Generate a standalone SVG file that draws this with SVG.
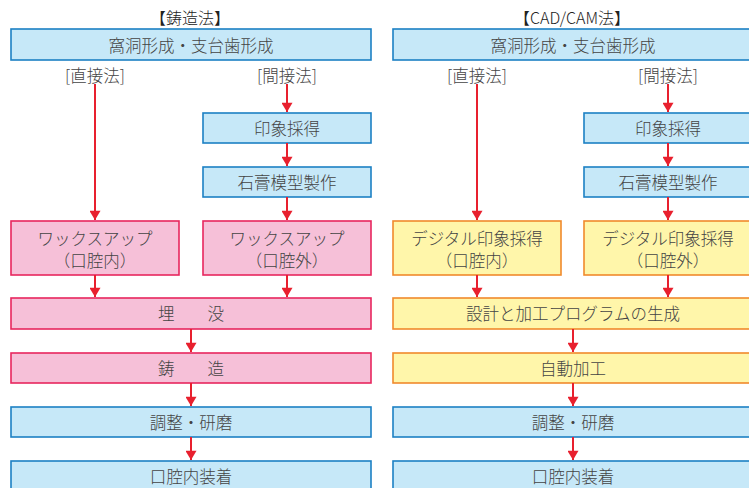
<svg xmlns="http://www.w3.org/2000/svg" width="749" height="488" viewBox="0 0 749 488">
<defs>
<marker id="ah" viewBox="0 0 10 12" refX="10" refY="6" markerWidth="10" markerHeight="11" markerUnits="userSpaceOnUse" orient="auto">
<path d="M0,0 L10,6 L0,12 Z" fill="#e8202e"/>
</marker>
<style>
text{font-family:"Noto Sans CJK JP","Noto Sans",sans-serif;font-size:16.5px;font-weight:300;fill:#444444;text-anchor:middle;dominant-baseline:central}
.t{font-size:16px;fill:#222222}
.blue{fill:#c6e8f8;stroke:#1c80c4;stroke-width:1.6}
.pink{fill:#f6c0d8;stroke:#e8265e;stroke-width:1.6}
.yel{fill:#fff6aa;stroke:#f08a2c;stroke-width:1.6}
.c line{stroke:#e8202e;stroke-width:2;marker-end:url(#ah)}
</style>
</defs>
<rect width="749" height="488" fill="#ffffff"/>
<g id="labels">
<text class="t" x="190" y="17">【鋳造法】</text>
<text class="t" x="572" y="17">【CAD/CAM法】</text>
<text x="95" y="75">[直接法]</text>
<text x="287" y="75">[間接法]</text>
<text x="477" y="75">[直接法]</text>
<text x="668" y="75">[間接法]</text>
</g>
<g id="L1"><rect class="blue" x="11" y="29" width="360" height="31"/><text x="191" y="45">窩洞形成・支台歯形成</text></g>
<g id="L2"><rect class="blue" x="203" y="113" width="168" height="30"/><text x="287" y="128">印象採得</text></g>
<g id="L3"><rect class="blue" x="203" y="167" width="168" height="30"/><text x="287" y="182">石膏模型製作</text></g>
<g id="L4"><rect class="pink" x="11" y="221" width="168" height="54"/><text x="95" y="238">ワックスアップ</text><text x="95" y="260">（口腔内）</text></g>
<g id="L5"><rect class="pink" x="203" y="221" width="168" height="54"/><text x="287" y="238">ワックスアップ</text><text x="287" y="260">（口腔外）</text></g>
<g id="L6"><rect class="pink" x="11" y="298" width="360" height="31"/><text x="191" y="313">埋　　没</text></g>
<g id="L7"><rect class="pink" x="11" y="353" width="360" height="30"/><text x="191" y="368">鋳　　造</text></g>
<g id="L8"><rect class="blue" x="11" y="407" width="360" height="30"/><text x="191" y="422">調整・研磨</text></g>
<g id="L9"><rect class="blue" x="11" y="461" width="360" height="30"/><text x="191" y="476">口腔内装着</text></g>
<g id="R1"><rect class="blue" x="393" y="29" width="360" height="31"/><text x="573" y="45">窩洞形成・支台歯形成</text></g>
<g id="R2"><rect class="blue" x="584" y="113" width="168" height="30"/><text x="668" y="128">印象採得</text></g>
<g id="R3"><rect class="blue" x="584" y="167" width="168" height="30"/><text x="668" y="182">石膏模型製作</text></g>
<g id="R4"><rect class="yel" x="393" y="221" width="168" height="54"/><text x="477" y="238">デジタル印象採得</text><text x="477" y="260">（口腔内）</text></g>
<g id="R5"><rect class="yel" x="584" y="221" width="168" height="54"/><text x="668" y="238">デジタル印象採得</text><text x="668" y="260">（口腔外）</text></g>
<g id="R6"><rect class="yel" x="393" y="298" width="360" height="31"/><text x="573" y="313">設計と加工プログラムの生成</text></g>
<g id="R7"><rect class="yel" x="393" y="353" width="360" height="30"/><text x="573" y="368">自動加工</text></g>
<g id="R8"><rect class="blue" x="393" y="407" width="360" height="30"/><text x="573" y="422">調整・研磨</text></g>
<g id="R9"><rect class="blue" x="393" y="461" width="360" height="30"/><text x="573" y="476">口腔内装着</text></g>
<g class="c" id="connectors">
<line x1="95" y1="84" x2="95" y2="220"/>
<line x1="287" y1="84" x2="287" y2="112"/>
<line x1="287" y1="143" x2="287" y2="166"/>
<line x1="287" y1="197" x2="287" y2="220"/>
<line x1="95" y1="275" x2="95" y2="297"/>
<line x1="287" y1="275" x2="287" y2="297"/>
<line x1="191" y1="329" x2="191" y2="352"/>
<line x1="191" y1="383" x2="191" y2="406"/>
<line x1="191" y1="437" x2="191" y2="460"/>
<line x1="477" y1="84" x2="477" y2="220"/>
<line x1="668" y1="84" x2="668" y2="112"/>
<line x1="668" y1="143" x2="668" y2="166"/>
<line x1="668" y1="197" x2="668" y2="220"/>
<line x1="477" y1="275" x2="477" y2="297"/>
<line x1="668" y1="275" x2="668" y2="297"/>
<line x1="573" y1="329" x2="573" y2="352"/>
<line x1="573" y1="383" x2="573" y2="406"/>
<line x1="573" y1="437" x2="573" y2="460"/>
</g>
</svg>
